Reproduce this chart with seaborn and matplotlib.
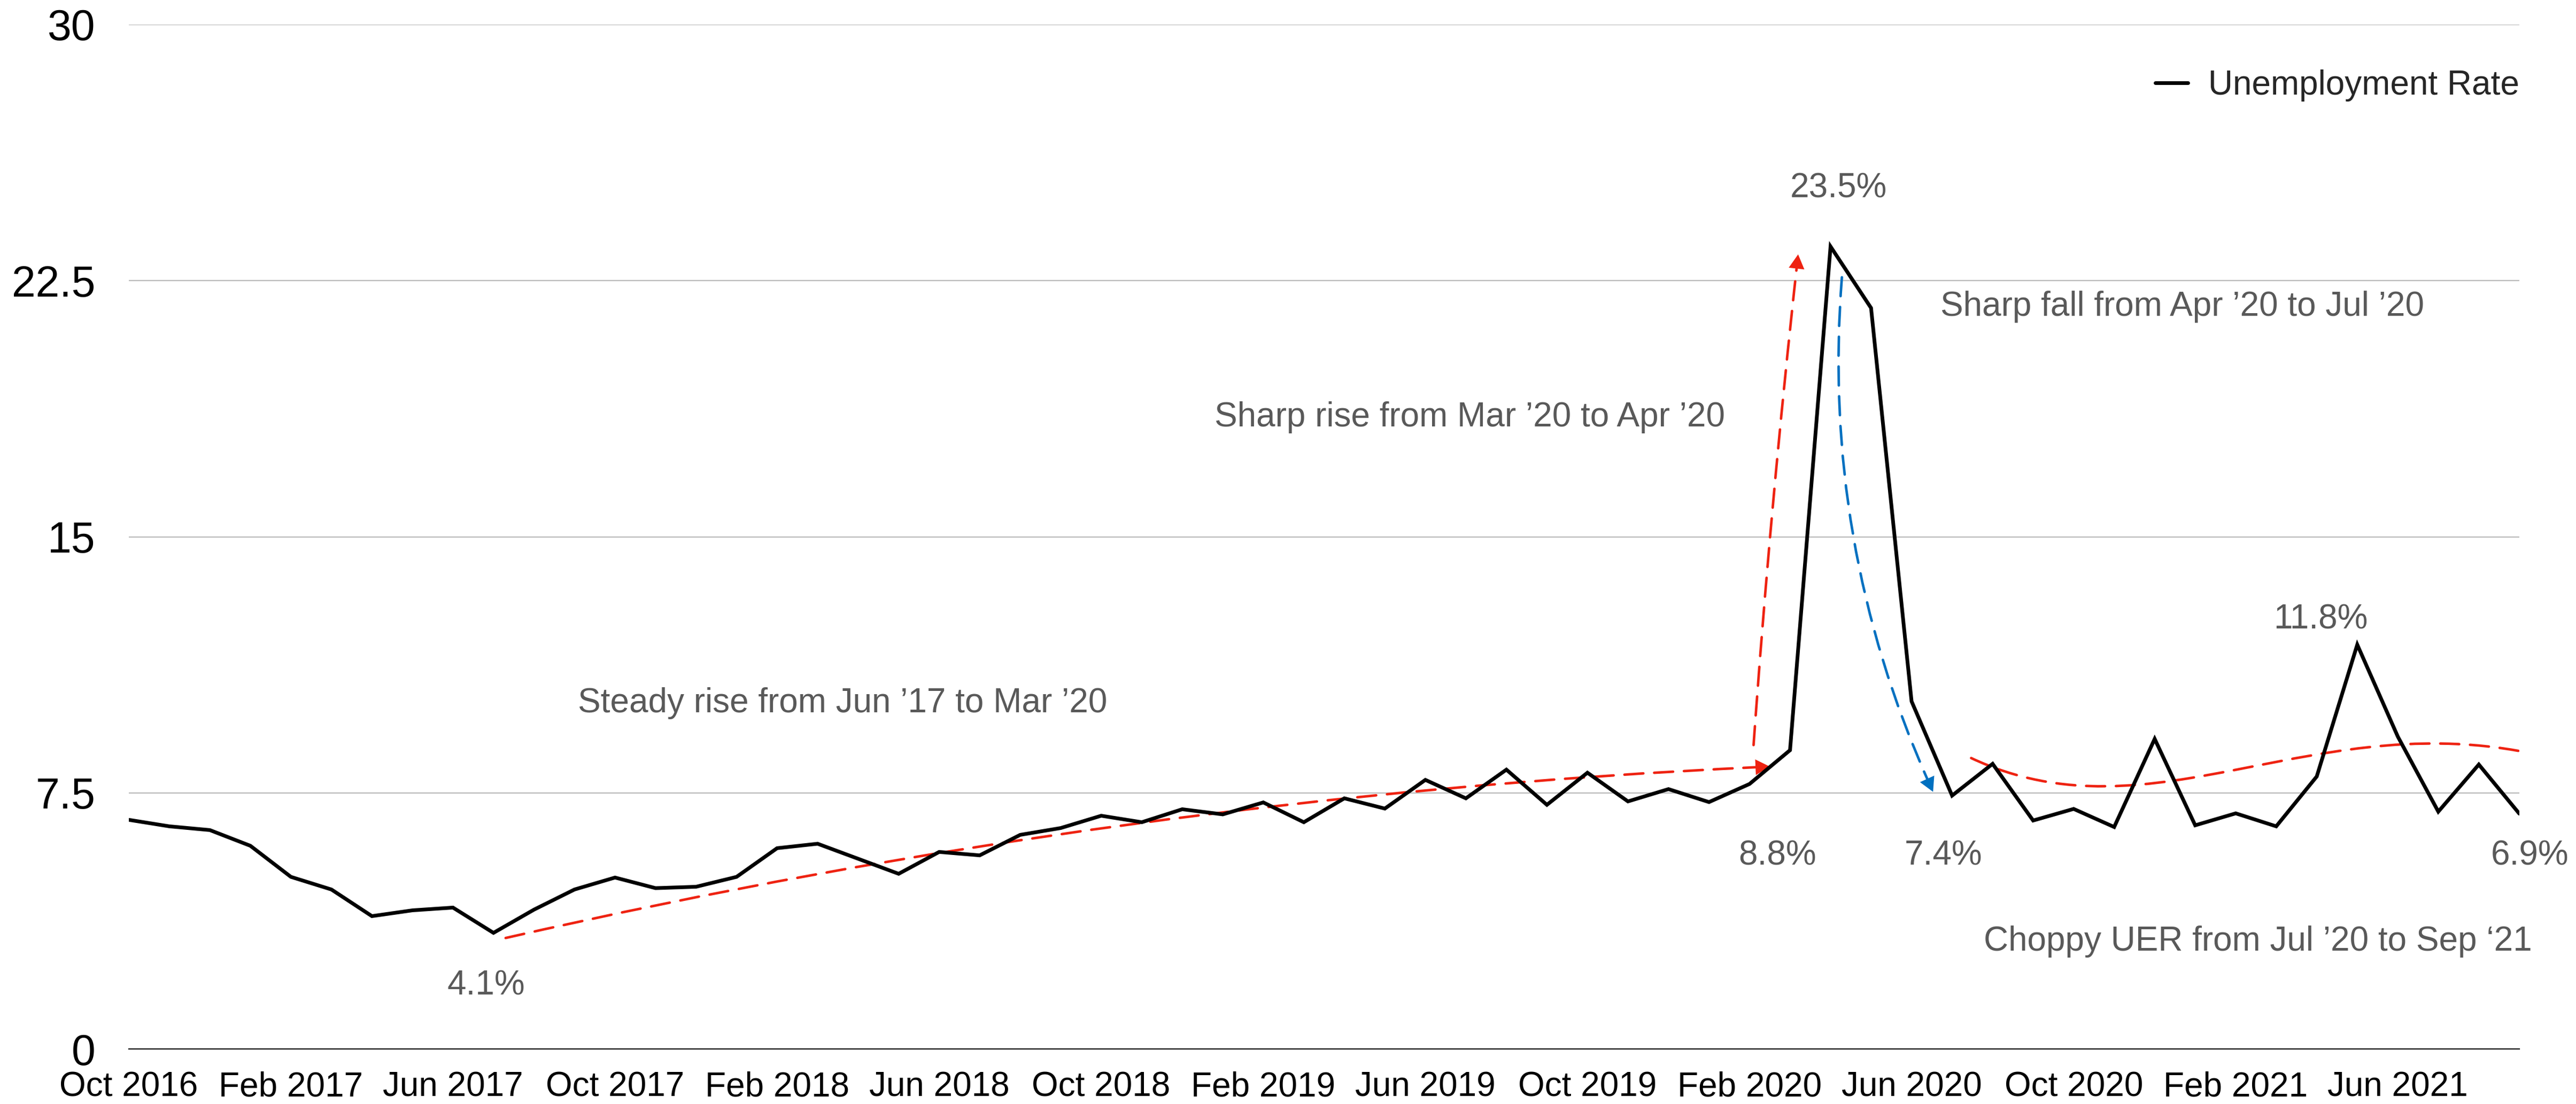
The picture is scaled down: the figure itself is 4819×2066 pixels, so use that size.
import numpy as np
import pandas as pd
import matplotlib
matplotlib.use("Agg")
import matplotlib.pyplot as plt
import seaborn as sns
from matplotlib.patches import FancyArrowPatch
from matplotlib.path import Path

# ---------------- data ----------------
months = pd.date_range("2016-10-01", periods=60, freq="MS").strftime("%b %Y").tolist()
rate = [6.71, 6.52, 6.41, 5.95, 5.04, 4.67, 3.89, 4.06, 4.14, 3.40,
        4.08, 4.67, 5.02, 4.71, 4.75, 5.04, 5.88, 6.01, 5.57, 5.13,
        5.77, 5.67, 6.27, 6.47, 6.83, 6.64, 7.02, 6.87, 7.22, 6.64,
        7.34, 7.04, 7.88, 7.34, 8.18, 7.15, 8.09, 7.25, 7.61, 7.23,
        7.76, 8.75, 23.50, 21.70, 10.18, 7.42, 8.35, 6.69, 7.03, 6.50,
        9.08, 6.55, 6.90, 6.52, 7.98, 11.84, 9.15, 6.95, 8.33, 6.89]
tick_labels = ["Oct 2016", "Feb 2017", "Jun 2017", "Oct 2017", "Feb 2018",
               "Jun 2018", "Oct 2018", "Feb 2019", "Jun 2019", "Oct 2019",
               "Feb 2020", "Jun 2020", "Oct 2020", "Feb 2021", "Jun 2021"]
y_ticks = [0, 7.5, 15, 22.5, 30]
y_tick_labels = ["0", "7.5", "15", "22.5", "30"]
series_name = "Unemployment Rate"

# ---------------- style ----------------
sns.set_theme(style="white")
plt.rcParams["font.family"] = ["Liberation Sans", "DejaVu Sans"]

W, H, DPI = 4819, 2066, 200
fig = plt.figure(figsize=(W / DPI, H / DPI), dpi=DPI)
ax = fig.add_axes([241 / W, 103 / H, (4713 - 241) / W, (1963 - 46) / H])

df = pd.DataFrame({"month": months, "idx": np.arange(len(rate)), "rate": rate})
sns.lineplot(data=df, x="idx", y="rate", ax=ax, color="black", linewidth=2.5,
             label=series_name, zorder=5)
for ln in ax.lines:
    ln.set_linewidth(2.5)
    ln.set_solid_joinstyle("miter")

ax.set_xlim(0, len(rate) - 1)
ax.set_ylim(0, 30)
ax.set_xlabel("")
ax.set_ylabel("")

tick_pos = [months.index(t) for t in tick_labels]
ax.set_xticks(tick_pos)
ax.set_xticklabels(tick_labels, fontsize=23, color="black")
ax.set_yticks(y_ticks)
ax.set_yticklabels(y_tick_labels, fontsize=29, color="black")
ax.tick_params(axis="x", length=0, pad=15)
ax.tick_params(axis="y", length=0, pad=22.5)

ax.yaxis.grid(True, color="#BDBDBD", linewidth=0.85)
ax.xaxis.grid(False)
ax.set_axisbelow(True)
for s in ["top", "right", "left"]:
    ax.spines[s].set_visible(False)
ax.spines["bottom"].set_color("black")
ax.spines["bottom"].set_linewidth(0.8)
ax.spines["bottom"].set_zorder(3)

leg = ax.legend(loc="center right", bbox_to_anchor=(1.0, 0.9405), frameon=False,
                fontsize=23, handlelength=0.95, handletextpad=0.6,
                borderpad=0, borderaxespad=0)
for h in leg.get_lines():
    h.set_linewidth(2.5)

# ---------------- annotations ----------------
TXT = "#595959"
RED = "#EE2211"
BLUE = "#0070C0"
fs = 23

def label(x, y, s):
    ax.text(x, y, s, ha="center", va="center", color=TXT, fontsize=fs, zorder=6)

label(17.61, 10.12, "Steady rise from Jun \u201917 to Mar \u201920")
label(33.09, 18.50, "Sharp rise from Mar \u201920 to Apr \u201920")
label(42.20, 25.20, "23.5%")
label(50.68, 21.74, "Sharp fall from Apr \u201920 to Jul \u201920")
label(8.82, 1.85, "4.1%")
label(40.69, 5.65, "8.8%")
label(44.78, 5.65, "7.4%")
label(54.10, 12.57, "11.8%")
label(59.26, 5.65, "6.9%")
label(52.55, 3.15, "Choppy UER from Jul \u201920 to Sep \u201821")

DASH = (0, (7.5, 4.3))
DLW = 1.7

def curved_arrow(start, end, rad, color):
    common = dict(connectionstyle=f"arc3,rad={rad}", transform=ax.transData,
                  zorder=4, shrinkA=0)
    line = FancyArrowPatch(start, end, arrowstyle="-", color=color, lw=DLW,
                           linestyle=DASH, shrinkB=7, **common)
    head = FancyArrowPatch(start, end, arrowstyle="-|>,head_length=0.4,head_width=0.22",
                           mutation_scale=24, color=color, lw=0, shrinkB=0, **common)
    ax.add_patch(line)
    ax.add_patch(head)

curved_arrow((9.3, 3.25), (40.5, 8.27), -0.045, RED)
curved_arrow((40.1, 8.9), (41.2, 23.27), -0.01, RED)
curved_arrow((42.28, 22.6), (44.53, 7.53), 0.13, BLUE)

verts = [(45.47, 8.52), (50.0, 6.0), (54.0, 10.2), (59.7, 8.55)]
codes = [Path.MOVETO, Path.CURVE4, Path.CURVE4, Path.CURVE4]
cpath = Path(verts, codes)
ax.add_patch(FancyArrowPatch(path=cpath, arrowstyle="-", color=RED, lw=DLW,
                             linestyle=DASH, transform=ax.transData, zorder=4))
ax.add_patch(FancyArrowPatch(path=cpath, arrowstyle="-|>,head_length=0.4,head_width=0.22",
                             mutation_scale=24, color=RED, lw=0,
                             transform=ax.transData, zorder=4))

fig.savefig("out.png", dpi=DPI, facecolor="white")
